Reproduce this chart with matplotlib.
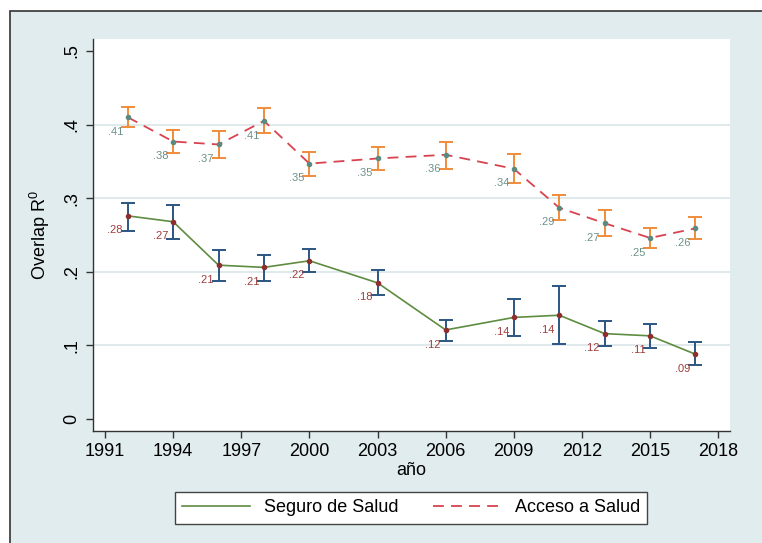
""" overlap index over time: health insurance vs health access """
import matplotlib
matplotlib.use("Agg")
import matplotlib.pyplot as plt
from matplotlib.patches import Rectangle

plt.rcParams['font.family'] = ['Liberation Sans', 'DejaVu Sans']
plt.rcParams['mathtext.fontset'] = 'custom'
plt.rcParams['mathtext.rm'] = 'Liberation Sans'

years = [1992, 1994, 1996, 1998, 2000, 2003, 2006, 2009, 2011, 2013, 2015, 2017]

seguro = [0.276, 0.268, 0.209, 0.206, 0.215, 0.185, 0.121, 0.138, 0.141, 0.116, 0.113, 0.088]
seguro_lo = [0.256, 0.244, 0.188, 0.188, 0.200, 0.168, 0.106, 0.113, 0.102, 0.099, 0.097, 0.073]
seguro_hi = [0.294, 0.291, 0.229, 0.223, 0.231, 0.202, 0.135, 0.163, 0.181, 0.133, 0.129, 0.104]
seguro_lbl = [".28", ".27", ".21", ".21", ".22", ".18", ".12", ".14", ".14", ".12", ".11", ".09"]

acceso = [0.410, 0.377, 0.373, 0.405, 0.347, 0.354, 0.359, 0.340, 0.287, 0.266, 0.246, 0.259]
acceso_lo = [0.397, 0.362, 0.354, 0.389, 0.330, 0.338, 0.340, 0.321, 0.270, 0.249, 0.233, 0.244]
acceso_hi = [0.424, 0.392, 0.391, 0.423, 0.363, 0.370, 0.377, 0.360, 0.305, 0.284, 0.259, 0.274]
acceso_lbl = [".41", ".38", ".37", ".41", ".35", ".35", ".36", ".34", ".29", ".27", ".25", ".26"]

xticks = [1991, 1994, 1997, 2000, 2003, 2006, 2009, 2012, 2015, 2018]
yticks = [0, 0.1, 0.2, 0.3, 0.4, 0.5]
ytick_lbl = ["0", ".1", ".2", ".3", ".4", ".5"]

bg = '#e1ecee'
fig = plt.figure(figsize=(7.62, 5.43), dpi=100, facecolor='white')
fig.patches.append(Rectangle((10 / 762, -0.1), 1.0, 1 - 11 / 543 + 0.1,
                             transform=fig.transFigure, facecolor=bg,
                             edgecolor='#333333', lw=1.2, zorder=-10))
ax = fig.add_axes([93 / 762, 1 - 431 / 543, (730 - 93) / 762, (431 - 39) / 543])
ax.set_facecolor('white')

for y in [0.1, 0.2, 0.3, 0.4]:
    ax.axhline(y, color='#dde8ea', lw=1.3, zorder=0)

def err(v, lo, hi):
    return [[a - b for a, b in zip(v, lo)], [b - a for a, b in zip(v, hi)]]

ax.errorbar(years, seguro, yerr=err(seguro, seguro_lo, seguro_hi), fmt='none',
            ecolor='#2b5583', elinewidth=1.4, capsize=5, capthick=1.4, zorder=2)
ax.errorbar(years, acceso, yerr=err(acceso, acceso_lo, acceso_hi), fmt='none',
            ecolor='#ef8c3a', elinewidth=1.4, capsize=5, capthick=1.4, zorder=2)

ax.plot(years, seguro, color='#5e8c41', lw=1.2, zorder=3, label='Seguro de Salud')
ax.plot(years, acceso, color='#d8434f', lw=1.3, ls=(0, (6, 4)), zorder=3, label='Acceso a Salud')
ax.plot(years, seguro, 'o', color='#8e2f2f', ms=3, zorder=4)
ax.plot(years, acceso, 'o', color='#5d8a80', ms=3, zorder=4)

for x, v, t in zip(years, seguro, seguro_lbl):
    ax.annotate(t, (x, v), xytext=(-3.5, -10.5), textcoords='offset points',
                ha='right', va='center', fontsize=8, color='#a03c3c')
for x, v, t in zip(years, acceso, acceso_lbl):
    ax.annotate(t, (x, v), xytext=(-3.5, -10.5), textcoords='offset points',
                ha='right', va='center', fontsize=8, color='#6c918a')

ax.set_xlim(1990.47, 2018.52)
ax.set_ylim(-0.0163, 0.5163)
ax.set_xticks(xticks)
ax.set_yticks(yticks)
ax.set_yticklabels(ytick_lbl, rotation=90, va='center')
ax.tick_params(axis='both', labelsize=13, length=5, width=1, color='#333333', pad=4)
for s in ['top', 'right']:
    ax.spines[s].set_visible(False)
for s in ['left', 'bottom']:
    ax.spines[s].set_color('#333333')
    ax.spines[s].set_linewidth(1)

ax.set_xlabel("año", fontsize=13, labelpad=1)
ax.set_ylabel(r"Overlap R$^{\mathrm{0}}$", fontsize=13, labelpad=8)

leg = fig.legend(loc='center', bbox_to_anchor=(411 / 762, 1 - 508 / 543), ncol=2,
                 fontsize=13, handlelength=3.8, handletextpad=0.75, columnspacing=1.9,
                 fancybox=False, framealpha=1, edgecolor='#444444', borderpad=0.4,
                 borderaxespad=0)
leg.get_frame().set_linewidth(1)

fig.savefig('out.png', dpi=100, facecolor=fig.get_facecolor())
